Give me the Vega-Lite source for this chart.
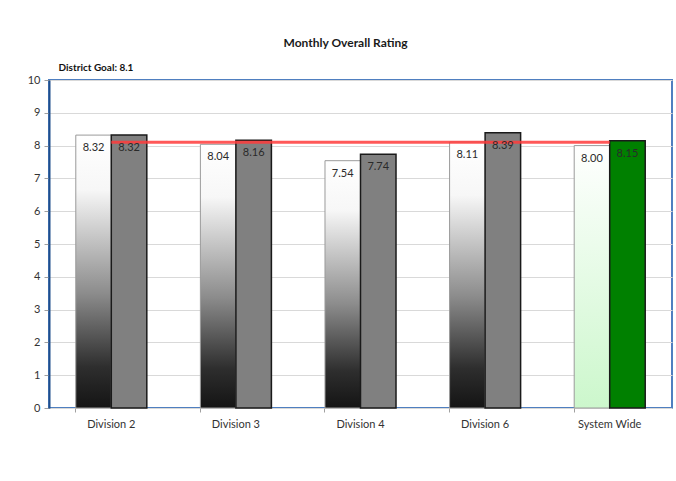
{
  "$schema": "https://vega.github.io/schema/vega-lite/v6.json",
  "width": 623,
  "height": 328,
  "autosize": {"type": "none"},
  "padding": {"left": 49, "top": 80, "right": 4, "bottom": 73},
  "background": "white",
  "title": {
    "text": "Monthly Overall Rating",
    "anchor": "middle",
    "dx": -15,
    "offset": 12,
    "fontSize": 12,
    "fontWeight": "bold",
    "font": "Lato",
    "color": "#1a1a1a"
  },
  "config": {
    "view": {"stroke": "#4f7fc0", "strokeWidth": 2},
    "font": "Lato"
  },
  "datasets": {
    "ratings": [
      {"category": "Division 2", "period": "Previous", "value": 8.32},
      {"category": "Division 2", "period": "Current", "value": 8.32},
      {"category": "Division 3", "period": "Previous", "value": 8.04},
      {"category": "Division 3", "period": "Current", "value": 8.16},
      {"category": "Division 4", "period": "Previous", "value": 7.54},
      {"category": "Division 4", "period": "Current", "value": 7.74},
      {"category": "Division 6", "period": "Previous", "value": 8.11},
      {"category": "Division 6", "period": "Current", "value": 8.39},
      {"category": "System Wide", "period": "Previous", "value": 8.00},
      {"category": "System Wide", "period": "Current", "value": 8.15}
    ],
    "goal": [
      {"category": "Division 2", "value": 8.1},
      {"category": "Division 3", "value": 8.1},
      {"category": "Division 4", "value": 8.1},
      {"category": "Division 6", "value": 8.1},
      {"category": "System Wide", "value": 8.1}
    ]
  },
  "data": {"name": "ratings"},
  "encoding": {
    "x": {
      "field": "category",
      "type": "nominal",
      "sort": ["Division 2", "Division 3", "Division 4", "Division 6", "System Wide"],
      "scale": {"paddingInner": 0.43, "paddingOuter": 0.215},
      "axis": {
        "title": null,
        "labelAngle": 0,
        "labelFontSize": 11,
        "labelColor": "#333333",
        "labelPadding": 6,
        "domain": false,
        "ticks": true,
        "bandPosition": 0,
        "tickColor": "#a0a0a0",
        "tickSize": 4,
        "grid": false
      }
    },
    "y": {
      "field": "value",
      "type": "quantitative",
      "scale": {"domain": [0, 10], "nice": false},
      "axis": {
        "title": "District Goal: 8.1",
        "titleAngle": 0,
        "titleAlign": "left",
        "titleBaseline": "middle",
        "titleX": 9,
        "titleY": -13,
        "titleFontSize": 10,
        "titleFontWeight": "bold",
        "titleColor": "#111111",
        "values": [0, 1, 2, 3, 4, 5, 6, 7, 8, 9, 10],
        "labelOverlap": false,
        "labelFontSize": 11,
        "labelColor": "#333333",
        "labelPadding": 4,
        "tickSize": 5,
        "tickColor": "#a0a0a0",
        "domainColor": "#1f4e8c",
        "domainWidth": 2,
        "gridColor": "#d9d9d9",
        "gridWidth": 1
      }
    }
  },
  "layer": [
    {
      "transform": [{"filter": "datum.period === 'Previous' && datum.category !== 'System Wide'"}],
      "mark": {
        "type": "bar",
        "stroke": "#9a9a9a",
        "strokeWidth": 1,
        "fill": {
          "gradient": "linear",
          "x1": 0, "y1": 1, "x2": 0, "y2": 0,
          "stops": [
            {"offset": 0, "color": "#141414"},
            {"offset": 0.15, "color": "#2e2e2e"},
            {"offset": 0.42, "color": "#8c8c8c"},
            {"offset": 0.8, "color": "#f7f7f7"},
            {"offset": 1, "color": "#ffffff"}
          ]
        }
      },
      "encoding": {
        "xOffset": {"field": "period", "type": "nominal", "sort": ["Previous", "Current"], "scale": {"paddingInner": 0, "paddingOuter": 0}}
      }
    },
    {
      "transform": [{"filter": "datum.period === 'Previous' && datum.category === 'System Wide'"}],
      "mark": {
        "type": "bar",
        "stroke": "#9a9a9a",
        "strokeWidth": 1,
        "fill": {
          "gradient": "linear",
          "x1": 0, "y1": 1, "x2": 0, "y2": 0,
          "stops": [
            {"offset": 0, "color": "#ccf7cc"},
            {"offset": 1, "color": "#ffffff"}
          ]
        }
      },
      "encoding": {
        "xOffset": {"field": "period", "type": "nominal", "sort": ["Previous", "Current"]}
      }
    },
    {
      "transform": [{"filter": "datum.period === 'Current'"}],
      "mark": {"type": "bar", "stroke": "#1a1a1a", "strokeWidth": 1.5},
      "encoding": {
        "xOffset": {"field": "period", "type": "nominal", "sort": ["Previous", "Current"]},
        "fill": {
          "condition": {"test": "datum.category === 'System Wide'", "value": "#008000"},
          "value": "#808080"
        }
      }
    },
    {
      "data": {"name": "goal"},
      "mark": {"type": "line", "color": "#ff3b3b", "strokeWidth": 3, "opacity": 0.85},
      "encoding": {}
    },
    {
      "mark": {"type": "text", "baseline": "middle", "dy": 13, "fontSize": 11, "color": "#2a2a2a"},
      "encoding": {
        "xOffset": {"field": "period", "type": "nominal", "sort": ["Previous", "Current"]},
        "text": {"field": "value", "type": "quantitative", "format": ".2f"}
      }
    }
  ]
}
